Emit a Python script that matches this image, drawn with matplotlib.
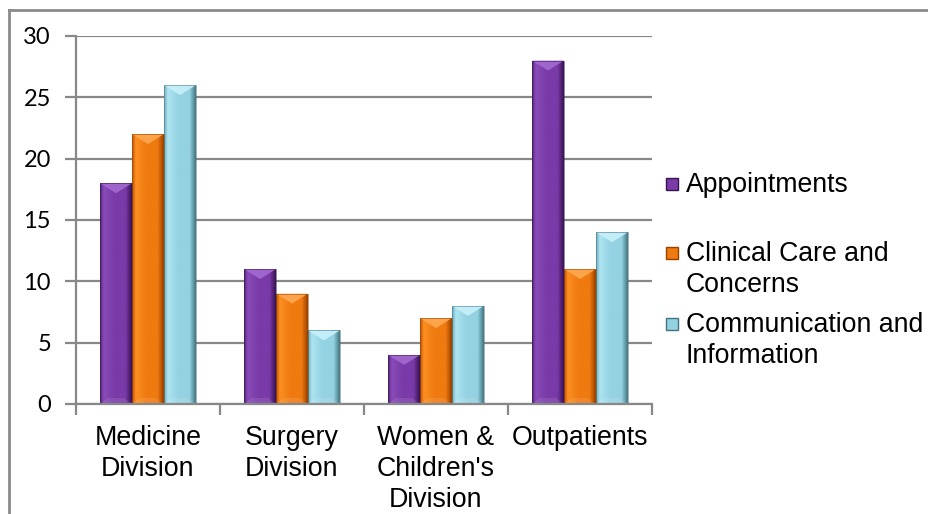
import numpy as np
import matplotlib
matplotlib.use("Agg")
import matplotlib.pyplot as plt
from matplotlib.colors import LinearSegmentedColormap
from matplotlib.patches import Polygon, Rectangle
from matplotlib.lines import Line2D

# ---- data ----
categories = ["Medicine\nDivision", "Surgery\nDivision", "Women &\nChildren's\nDivision", "Outpatients"]
series = ["Appointments", "Clinical Care and\nConcerns", "Communication and\nInformation"]
appointments = [18, 11, 4, 28]
clinical_care = [22, 9, 7, 11]
communication = [26, 6, 8, 14]
yticks = [0, 5, 10, 15, 20, 25, 30]

values = [appointments, clinical_care, communication]

# bevel shading: (left edge, bright, mid, right edge, top facet)
palettes = [
    ["#4f2372", "#8a4cba", "#7a3aa8", "#361450", "#a46ad2"],
    ["#b85200", "#fd8e22", "#ef7a10", "#974000", "#ffa850"],
    ["#6ea6b6", "#ace4f2", "#94d2e2", "#427480", "#c8f0fa"],
]

W, H, DPI = 929, 514, 100
fig = plt.figure(figsize=(W / DPI, H / DPI), dpi=DPI)
fig.patch.set_facecolor("white")

ax_l, ax_r, ax_t, ax_b = 76, 652, 36, 404
ax = fig.add_axes([ax_l / W, 1 - ax_b / H, (ax_r - ax_l) / W, (ax_b - ax_t) / H])

n_cat = len(categories)
n_ser = len(series)
bar_w = 0.222
x = np.arange(n_cat)
ymax = 30
px_per_unit_y = (ax_b - ax_t) / ymax

grid_col = "#888888"
ax.set_axisbelow(True)
ax.yaxis.grid(True, color=grid_col, linewidth=1.6)
for s in ["top", "right"]:
    ax.spines[s].set_visible(False)
for s in ["left", "bottom"]:
    ax.spines[s].set_color(grid_col)
    ax.spines[s].set_linewidth(1.6)

for si, (vals, pal) in enumerate(zip(values, palettes)):
    offs = (si - (n_ser - 1) / 2) * bar_w
    bars = ax.bar(x + offs, vals, bar_w, color=pal[2], edgecolor="none", zorder=2)
    cmap = LinearSegmentedColormap.from_list(
        f"bevel{si}", [(0, pal[0]), (0.12, pal[1]), (0.45, pal[2]), (0.80, pal[2]), (1, pal[3])])
    grad = np.linspace(0, 1, 256).reshape(1, -1)
    for b in bars:
        x0, w, h = b.get_x(), b.get_width(), b.get_height()
        x1 = x0 + w
        im = ax.imshow(grad, cmap=cmap, extent=(x0, x1, 0, h), aspect="auto",
                       zorder=2.1, interpolation="bilinear")
        im.set_clip_path(b)
        d = min(10 / px_per_unit_y, h / 2)
        xc = (x0 + x1) / 2
        # top facet
        ax.add_patch(Polygon([(x0, h), (x1, h), (xc, h - d)], closed=True,
                             facecolor=pal[4], edgecolor="none", alpha=0.9, zorder=2.2))
        # bottom facet
        db = min(6 / px_per_unit_y, h / 3)
        ax.add_patch(Polygon([(x0, 0), (x1, 0), (x1 - w * 0.25, db), (x0 + w * 0.25, db)],
                             closed=True, facecolor="white", edgecolor="none",
                             alpha=0.10, zorder=2.2))
        # thin outline
        ax.add_patch(Rectangle((x0, 0), w, h, facecolor="none",
                               edgecolor=pal[3], linewidth=0.6, alpha=0.6, zorder=2.3))

ax.set_xlim(-0.5, n_cat - 0.5)
ax.set_ylim(0, ymax)
ax.set_yticks(yticks)
ax.set_yticklabels([str(t) for t in yticks], fontfamily="Lato", fontsize=17)
ax.tick_params(axis="y", length=8, width=1.6, color=grid_col, pad=10, direction="out")

ax.set_xticks(x)
ax.set_xticklabels(categories, fontfamily="Liberation Sans", fontsize=19.3, linespacing=1.25)
ax.tick_params(axis="x", which="major", length=0, pad=15)
ax.set_xticks(np.arange(n_cat + 1) - 0.5, minor=True)
ax.tick_params(axis="x", which="minor", length=8, width=1.6, color=grid_col, direction="out")

# legend
leg_x_box, leg_x_text = 666, 686
leg_y = [184, 253, 324]
for name, pal, yy in zip(series, palettes, leg_y):
    fig.patches.append(Rectangle((leg_x_box / W, 1 - (yy + 6) / H), 12 / W, 12 / H,
                                 transform=fig.transFigure, facecolor=pal[2],
                                 edgecolor=pal[3], linewidth=1.0))
    fig.text(leg_x_text / W, 1 - (yy - 12) / H, name, fontfamily="Liberation Sans",
             fontsize=19.2, va="top", ha="left", linespacing=1.25)

# chart frame
fig.add_artist(Line2D([9 / W, 9 / W], [1 - 10 / H, 0], transform=fig.transFigure,
                      color="#8a8a8a", linewidth=2))
fig.add_artist(Line2D([9 / W, 928 / W], [1 - 10 / H, 1 - 10 / H], transform=fig.transFigure,
                      color="#8a8a8a", linewidth=2))

fig.savefig("out.png", dpi=DPI)
